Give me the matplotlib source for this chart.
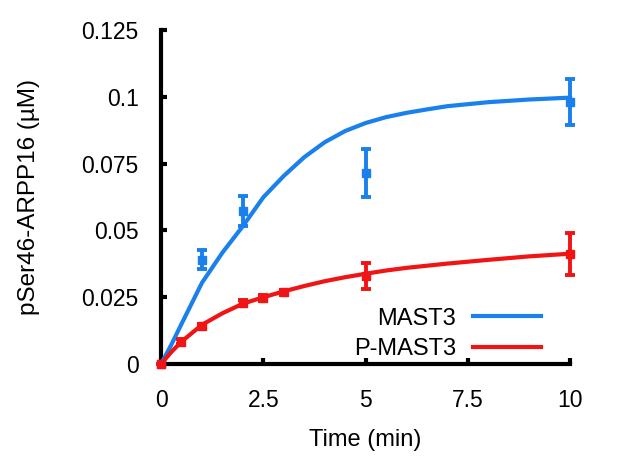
import matplotlib
matplotlib.use("Agg")
import matplotlib.pyplot as plt

plt.rcParams['font.family'] = ['Liberation Sans', 'DejaVu Sans']

# Measured data points
t_mast3 = [0, 1, 2, 5, 10]
y_mast3 = [0.0, 0.039, 0.0573, 0.0714, 0.098]
e_mast3 = [0.0, 0.0036, 0.0055, 0.009, 0.0085]

t_pmast3 = [0, 0.5, 1, 2, 2.5, 3, 5, 10]
y_pmast3 = [0.0, 0.0084, 0.0143, 0.0228, 0.0247, 0.0268, 0.0330, 0.0412]
e_pmast3 = [0.0, 0.0008, 0.0008, 0.0010, 0.0010, 0.0010, 0.0050, 0.0078]

# Fitted curves
t_fit = [0, 0.25, 0.5, 1, 1.5, 2, 2.5, 3, 3.5, 4, 4.5, 5, 5.5, 6, 6.5, 7, 8, 9, 10]
fit_mast3 = [0.0, 0.0072, 0.0150, 0.0304, 0.0417, 0.0516, 0.0624, 0.0704, 0.0774,
             0.0830, 0.0872, 0.0902, 0.0924, 0.0940, 0.0953, 0.0965, 0.0980, 0.0990, 0.0997]
fit_pmast3 = [0.0, 0.0045, 0.0084, 0.0147, 0.0190, 0.0226, 0.0250, 0.0272, 0.0292,
              0.0310, 0.0325, 0.0338, 0.0350, 0.0360, 0.0368, 0.0376, 0.0390, 0.0403, 0.0413]

series_labels = ['MAST3', 'P-MAST3']
x_ticks = [0, 2.5, 5, 7.5, 10]
x_tick_labels = ['0', '2.5', '5', '7.5', '10']
y_ticks = [0, 0.025, 0.05, 0.075, 0.1, 0.125]
y_tick_labels = ['0', '0.025', '0.05', '0.075', '0.1', '0.125']

blue = '#1a80ec'
red = '#f01414'

fig = plt.figure(figsize=(6.17, 4.62), dpi=100)
ax = fig.add_axes([0.261, 0.212, 0.663, 0.723])

ax.plot(t_fit, fit_mast3, color=blue, lw=3, label=series_labels[0], clip_on=False,
        zorder=3, solid_joinstyle='round')
ax.plot(t_fit, fit_pmast3, color=red, lw=3, label=series_labels[1], clip_on=False,
        zorder=3, solid_joinstyle='round')
ax.errorbar(t_mast3, y_mast3, yerr=e_mast3, fmt='s', color=blue, ms=6, elinewidth=2.8,
            capsize=3.5, capthick=2.8, clip_on=False, zorder=4)
ax.errorbar(t_pmast3, y_pmast3, yerr=e_pmast3, fmt='s', color=red, ms=6, elinewidth=2.8,
            capsize=3.5, capthick=2.8, clip_on=False, zorder=4)

ax.set_xlim(0, 10)
ax.set_ylim(0, 0.125)
ax.set_xticks(x_ticks)
ax.set_xticklabels(x_tick_labels)
ax.set_yticks(y_ticks)
ax.set_yticklabels(y_tick_labels)
for s in ['top', 'right']:
    ax.spines[s].set_visible(False)
for s in ['left', 'bottom']:
    ax.spines[s].set_linewidth(3)
ax.tick_params(direction='in', length=4, width=3, labelsize=16.5, pad=16)
ax.tick_params(axis='x', pad=18)

ax.set_xlabel('Time (min)', fontsize=17, labelpad=12)
ax.set_ylabel('pSer46-ARPP16 (µM)', fontsize=17.5, labelpad=30)

leg = ax.legend(loc='lower right', bbox_to_anchor=(0.929, 0.012), frameon=False,
                markerfirst=False, fontsize=17, handlelength=2.9, handletextpad=0.7,
                borderpad=0, borderaxespad=0, labelspacing=0.36)

fig.savefig('out.png', dpi=100)
